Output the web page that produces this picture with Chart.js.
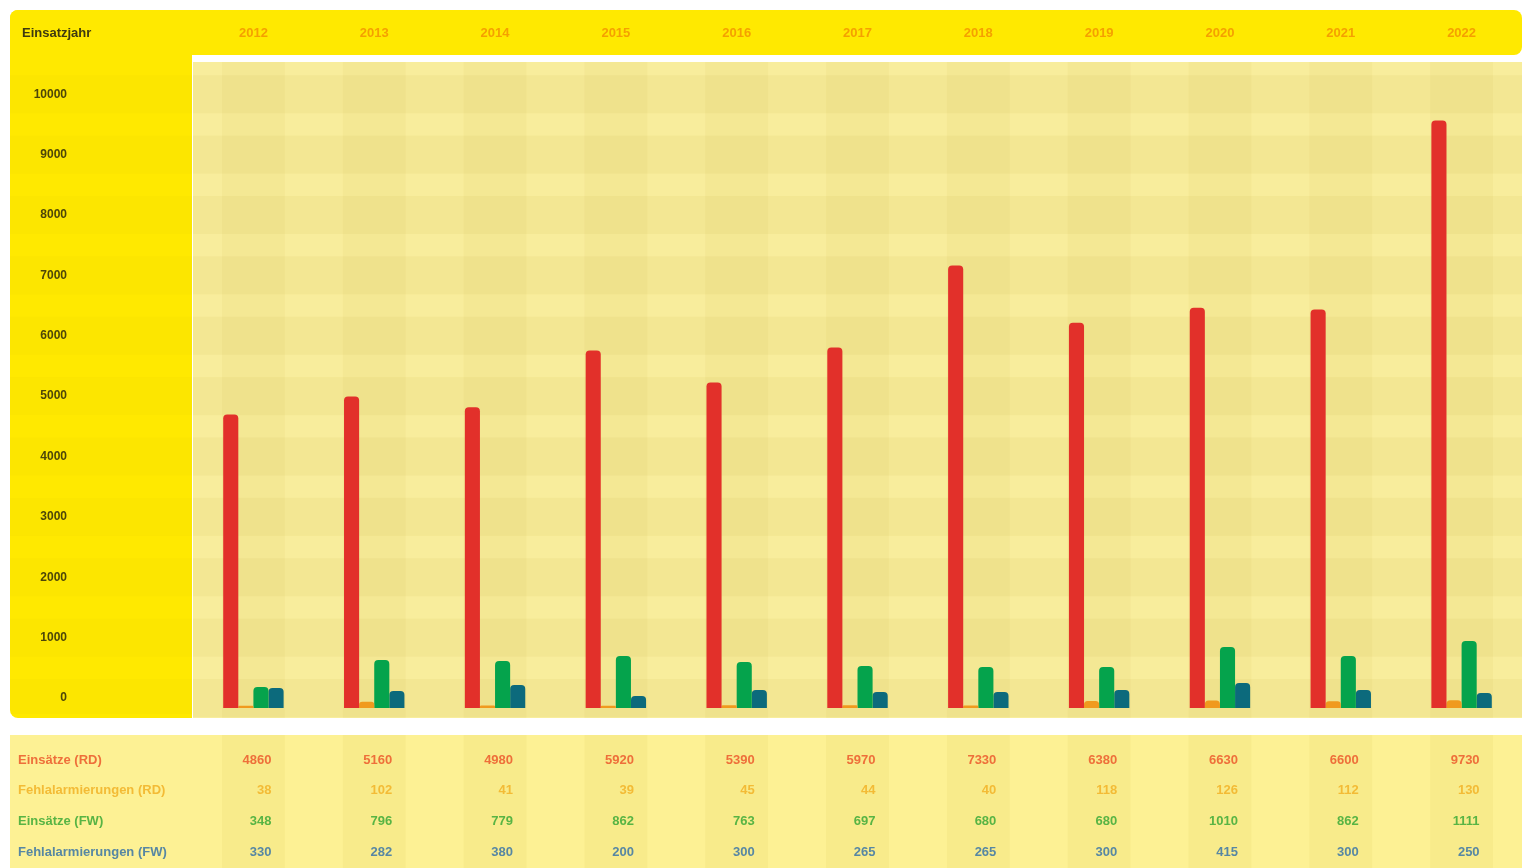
<!DOCTYPE html>
<html lang="de">
<head>
<meta charset="utf-8">
<title>Einsätze nach Jahr</title>
<script src="https://cdn.jsdelivr.net/npm/chart.js@4.4.1/dist/chart.umd.min.js"></script>
<style>
  html, body { margin: 0; padding: 0; background: #ffffff; }
  #wrap { width: 1534px; height: 868px; position: relative; }
  canvas { display: block; }
</style>
</head>
<body>
<div id="wrap"><canvas id="chart" width="1534" height="868"></canvas></div>
<script>
// Jahre (Kategorien)
const years = ['2012', '2013', '2014', '2015', '2016', '2017', '2018', '2019', '2020', '2021', '2022'];

// Reihen
const einsaetzeRD      = [4860, 5160, 4980, 5920, 5390, 5970, 7330, 6380, 6630, 6600, 9730];
const fehlalarmeRD     = [38, 102, 41, 39, 45, 44, 40, 118, 126, 112, 130];
const einsaetzeFW      = [348, 796, 779, 862, 763, 697, 680, 680, 1010, 862, 1111];
const fehlalarmeFW     = [330, 282, 380, 200, 300, 265, 265, 300, 415, 300, 250];

// Beschriftungen
const seriesLabels = ['Einsätze (RD)', 'Fehlalarmierungen (RD)', 'Einsätze (FW)', 'Fehlalarmierungen (FW)'];
const cornerTitle = 'Einsatzjahr';

// Achse
const yTicks = [0, 1000, 2000, 3000, 4000, 5000, 6000, 7000, 8000, 9000, 10000];
const yMax = 10700;

const barColors  = ['#e2302a', '#f09a1e', '#05a34c', '#0c6a7c'];
const textColors = ['#ee6f3a', '#f3bb36', '#58b444', '#5787a3'];

const FONT = '"Liberation Sans", Arial, sans-serif';

const layoutPlugin = {
  id: 'tableLayout',
  beforeDraw(chart) {
    const { ctx, chartArea: a, scales } = chart;
    const x = scales.x, y = scales.y;
    const plotBottom = a.bottom + 10;
    ctx.save();
    ctx.fillStyle = '#ffffff';
    ctx.fillRect(0, 0, chart.width, chart.height);

    // Kopfzeile und linke Spalte
    ctx.fillStyle = '#ffe900';
    ctx.beginPath();
    ctx.roundRect(10, 10, a.right - 10, 45, 8);
    ctx.fill();
    ctx.beginPath();
    ctx.roundRect(10, 10, a.left - 11, plotBottom - 10, [8, 0, 0, 8]);
    ctx.fill();

    // Diagrammfläche
    ctx.fillStyle = '#f8ed9c';
    ctx.fillRect(a.left, a.top, a.right - a.left, plotBottom - a.top);

    // Zeilenbänder um die Achsenwerte
    yTicks.forEach(v => {
      const cy = y.getPixelForValue(v) - 10;
      const top = Math.max(cy - 19, a.top), bot = Math.min(cy + 19, plotBottom);
      ctx.fillStyle = 'rgba(190,160,30,0.07)';
      ctx.fillRect(a.left, top, a.right - a.left, bot - top);
      ctx.fillStyle = 'rgba(200,170,0,0.05)';
      ctx.fillRect(10, Math.max(cy - 19, 58), a.left - 11, Math.min(cy + 19, plotBottom - 4) - Math.max(cy - 19, 58));
    });
    // Spaltenbänder je Jahr
    const colW = (a.right - a.left) / years.length;
    years.forEach((_, i) => {
      const cx = x.getPixelForValue(i);
      ctx.fillStyle = 'rgba(190,160,30,0.06)';
      ctx.fillRect(cx - colW * 0.26, a.top, colW * 0.52, plotBottom - a.top);
    });

    // Tabelle unten
    const tTop = plotBottom + 17;
    ctx.fillStyle = '#fdf194';
    ctx.fillRect(10, tTop, a.right - 10, chart.height - tTop);
    years.forEach((_, i) => {
      const cx = x.getPixelForValue(i);
      ctx.fillStyle = 'rgba(190,160,30,0.07)';
      ctx.fillRect(cx - colW * 0.26, tTop, colW * 0.52, chart.height - tTop);
    });
    ctx.restore();
  },
  afterDraw(chart) {
    const { ctx, chartArea: a, scales } = chart;
    const x = scales.x, y = scales.y;
    ctx.save();
    ctx.textBaseline = 'middle';

    // Titel links oben
    ctx.font = 'bold 13px ' + FONT;
    ctx.fillStyle = '#3e3a10';
    ctx.textAlign = 'left';
    ctx.fillText(cornerTitle, 22, 33);

    // Jahre in der Kopfzeile
    ctx.fillStyle = '#f5a000';
    ctx.textAlign = 'center';
    years.forEach((yr, i) => ctx.fillText(yr, x.getPixelForValue(i), 33));

    // Achsenwerte
    ctx.font = 'bold 12px ' + FONT;
    ctx.fillStyle = '#4d4608';
    ctx.textAlign = 'right';
    yTicks.forEach(v => ctx.fillText(String(v), 67, y.getPixelForValue(v) - 10));

    // Wertetabelle
    const rows = [einsaetzeRD, fehlalarmeRD, einsaetzeFW, fehlalarmeFW];
    const rowY = [760, 790, 821, 852];
    ctx.font = 'bold 13px ' + FONT;
    rows.forEach((vals, r) => {
      ctx.fillStyle = textColors[r];
      ctx.textAlign = 'left';
      ctx.fillText(seriesLabels[r], 18, rowY[r]);
      ctx.textAlign = 'right';
      vals.forEach((v, i) => ctx.fillText(String(v), x.getPixelForValue(i) + 18, rowY[r]));
    });
    ctx.restore();
  }
};

const mk = (label, data, idx) => ({
  label, data,
  backgroundColor: barColors[idx],
  borderWidth: 0,
  borderRadius: { topLeft: 4, topRight: 4 },
  borderSkipped: 'start',
  categoryPercentage: 0.5,
  barPercentage: 1.0
});

new Chart(document.getElementById('chart'), {
  type: 'bar',
  data: {
    labels: years,
    datasets: [
      mk(seriesLabels[0], einsaetzeRD, 0),
      mk(seriesLabels[1], fehlalarmeRD, 1),
      mk(seriesLabels[2], einsaetzeFW, 2),
      mk(seriesLabels[3], fehlalarmeFW, 3)
    ]
  },
  options: {
    responsive: false,
    animation: false,
    layout: { padding: { left: 193, right: 12, top: 62, bottom: 160 } },
    plugins: { legend: { display: false }, tooltip: { enabled: false } },
    scales: {
      x: { display: false, offset: true },
      y: { display: false, min: 0, max: yMax }
    }
  },
  plugins: [layoutPlugin]
});
</script>
</body>
</html>
